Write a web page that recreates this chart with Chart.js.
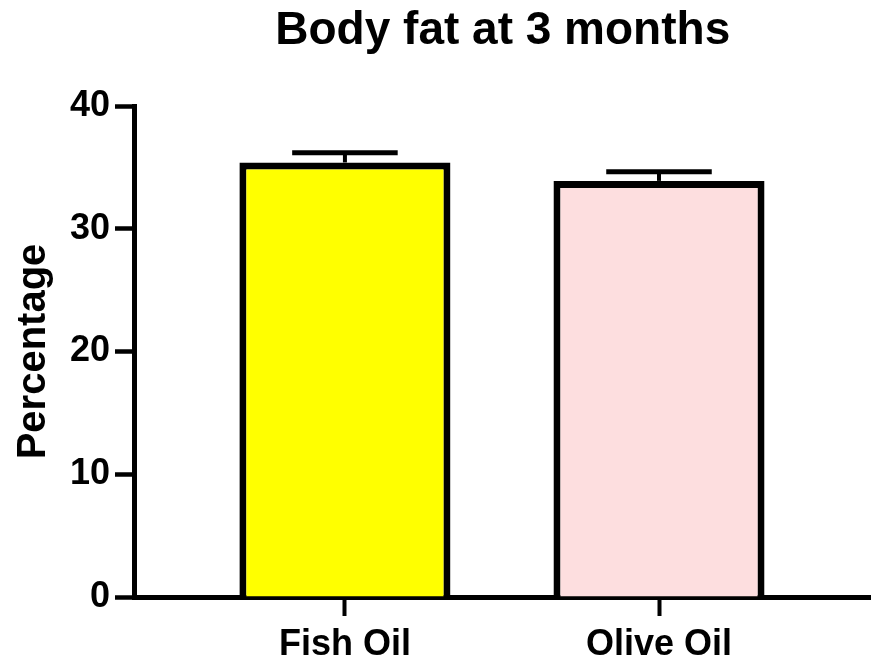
<!DOCTYPE html>
<html>
<head>
<meta charset="utf-8">
<script src="https://cdn.jsdelivr.net/npm/chart.js@4/dist/chart.umd.min.js"></script>
<style>
  html, body { margin: 0; padding: 0; background: #ffffff; }
  canvas { display: block; }
</style>
</head>
<body>
<canvas id="chart" width="871" height="663"></canvas>
<script>
// Group names, group means and their standard errors
const categories = ['Fish Oil', 'Olive Oil'];
const meanValues = [35.4, 33.9];
const semValues = [0.8, 0.75];
const barColors = ['#FFFF00', '#FDDEDF'];
const yTickValues = [0, 10, 20, 30, 40];

const FONT = "'Liberation Sans', Arial, Helvetica, sans-serif";

// Draws a one-sided (upward) error bar with a cap above each bar
const errorBarPlugin = {
  id: 'errorBars',
  afterDatasetsDraw(chart) {
    const ctx = chart.ctx;
    const yScale = chart.scales.y;
    const meta = chart.getDatasetMeta(0);
    ctx.save();
    ctx.strokeStyle = '#000000';
    ctx.lineCap = 'butt';
    meta.data.forEach((bar, i) => {
      const x = bar.x;
      const yTop = yScale.getPixelForValue(meanValues[i]);
      const yErr = yScale.getPixelForValue(meanValues[i] + semValues[i]);
      const half = bar.width / 4;
      ctx.lineWidth = 4;
      ctx.beginPath();
      ctx.moveTo(x, yTop);
      ctx.lineTo(x, yErr);
      ctx.stroke();
      ctx.lineWidth = 5;
      ctx.beginPath();
      ctx.moveTo(x - half, yErr);
      ctx.lineTo(x + half, yErr);
      ctx.stroke();
    });
    ctx.restore();
  }
};

new Chart(document.getElementById('chart'), {
  type: 'bar',
  data: {
    datasets: [{
      data: categories.map((c, i) => ({ x: i, y: meanValues[i] })),
      backgroundColor: barColors,
      borderColor: '#000000',
      borderWidth: 7,
      borderSkipped: 'start',
      categoryPercentage: 1,
      barPercentage: 0.672
    }]
  },
  options: {
    responsive: false,
    animation: false,
    layout: { padding: { left: 0, right: 0, top: 0, bottom: 0 } },
    plugins: {
      legend: { display: false },
      tooltip: { enabled: false },
      title: {
        display: true,
        text: 'Body fat at 3 months',
        color: '#000000',
        fullSize: false,
        align: 'center',
        font: { family: FONT, size: 46, weight: 'bold' },
        padding: { top: 4, bottom: 46.8 }
      }
    },
    scales: {
      x: {
        type: 'linear',
        offset: false,
        min: -0.670,
        max: 1.675,
        afterBuildTicks(scale) {
          scale.ticks = categories.map((c, i) => ({ value: i }));
        },
        afterFit(scale) { scale.height = 66; },
        border: { display: true, color: '#000000', width: 5 },
        grid: {
          display: true,
          offset: false,
          drawOnChartArea: false,
          drawTicks: true,
          tickLength: 19,
          tickWidth: 4,
          tickColor: '#000000',
          color: '#000000'
        },
        ticks: {
          color: '#000000',
          padding: 7,
          maxRotation: 0,
          autoSkip: false,
          font: { family: FONT, size: 36, weight: 'bold' },
          callback: (v) => categories[v]
        }
      },
      y: {
        min: 0,
        max: 40,
        afterBuildTicks(scale) {
          scale.ticks = yTickValues.map(v => ({ value: v }));
        },
        afterFit(scale) { scale.width = 134.5; },
        border: { display: true, color: '#000000', width: 5 },
        grid: {
          display: true,
          drawOnChartArea: false,
          drawTicks: true,
          tickLength: 19.5,
          tickWidth: 4.5,
          tickColor: '#000000',
          color: '#000000'
        },
        ticks: {
          color: '#000000',
          padding: 5,
          font: { family: FONT, size: 36, weight: 'bold' }
        },
        title: {
          display: true,
          text: 'Percentage',
          color: '#000000',
          font: { family: FONT, size: 40, weight: 'bold' },
          padding: { top: 10, bottom: 0 }
        }
      }
    }
  },
  plugins: [errorBarPlugin]
});
</script>
</body>
</html>
